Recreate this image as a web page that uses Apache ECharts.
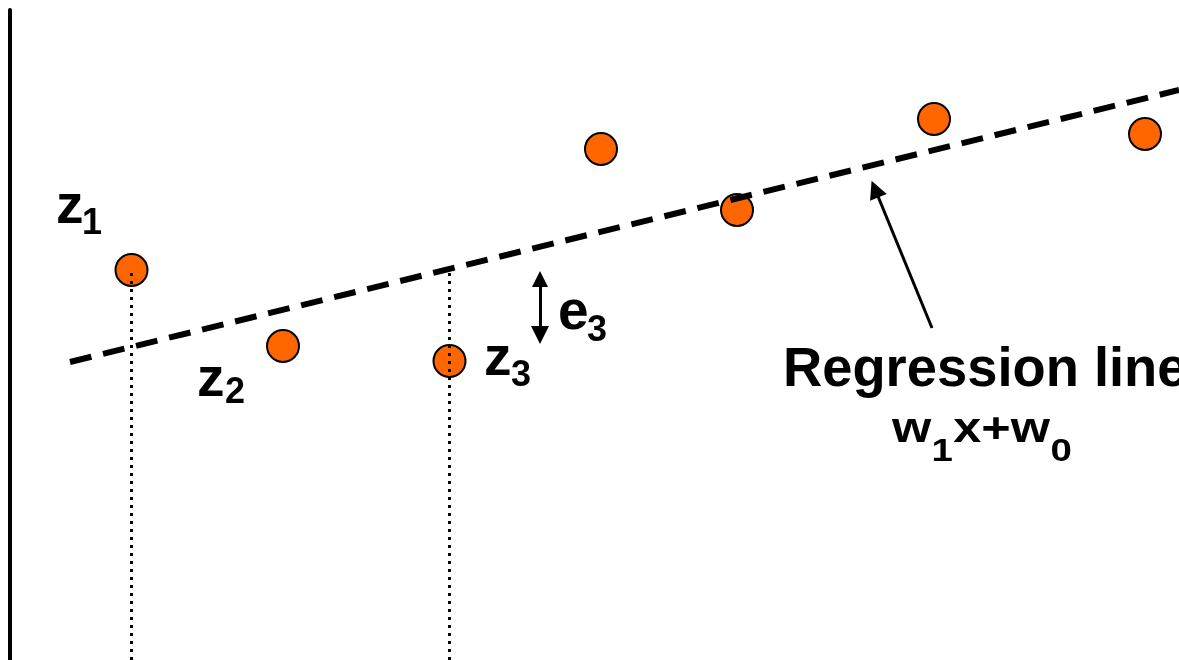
<!DOCTYPE html>
<html>
<head>
<meta charset="utf-8">
<script src="https://cdn.jsdelivr.net/npm/echarts@6/dist/echarts.min.js"></script>
<style>
  html, body { margin: 0; padding: 0; background: #fff; }
  #chart { width: 1179px; height: 660px; }
</style>
</head>
<body>
<div id="chart"></div>
<script>
// Observations z_i
const pointX = [1.215, 2.73, 4.395, 5.91, 7.27, 9.24, 11.35];
const pointY = [3.90, 3.14, 2.99, 5.11, 4.50, 5.41, 5.26];

// Regression line w1*x + w0, given by its two drawn end points
const regressionX = [0.60, 11.69];
const regressionY = [2.98, 5.70];

// Vertical drop lines (x, top) down to the x axis
const dropX = [1.215, 4.395];
const dropTop = [3.90, 3.91];

// Residual arrow e3 (x, from, to) and the pointer to the regression line
const residualX = 5.30;
const residualY = [3.81, 3.25];
const pointerFrom = [9.22, 3.32];
const pointerTo = [8.65, 4.71];

const FONT = '"Liberation Sans", Arial, Helvetica, sans-serif';

function txt(text, x, y, size, extra) {
  return Object.assign({
    type: 'text',
    x: x, y: y,
    z: 100,
    style: {
      text: text,
      font: 'bold ' + size + 'px ' + FONT,
      fill: '#000',
      align: 'left',
      verticalAlign: 'middle'
    }
  }, extra || {});
}

const chart = echarts.init(document.getElementById('chart'), null, { renderer: 'canvas' });

const option = {
  backgroundColor: '#fff',
  animation: false,
  grid: { left: 10, right: 0, top: 10, bottom: 0, containLabel: false },
  xAxis: {
    type: 'value', min: 0, max: 11.69, show: false
  },
  yAxis: {
    type: 'value', min: 0, max: 6.5,
    axisLine: { show: true, lineStyle: { color: '#000', width: 4 } },
    axisTick: { show: false },
    axisLabel: { show: false },
    splitLine: { show: false }
  },
  series: [
    {
      type: 'scatter',
      z: 2,
      symbol: 'circle',
      symbolSize: 32,
      itemStyle: { color: '#ff6600', borderColor: '#000', borderWidth: 2, opacity: 1 },
      data: pointX.map((x, i) => [x, pointY[i]])
    },
    {
      type: 'line',
      z: 3,
      symbol: 'none',
      lineStyle: { color: '#000', width: 6, type: [22, 12], cap: 'butt' },
      data: regressionX.map((x, i) => [x, regressionY[i]])
    },
    {
      type: 'lines',
      coordinateSystem: 'cartesian2d',
      z: 4,
      lineStyle: { color: '#000', width: 3, type: [3, 5], opacity: 1 },
      data: dropX.map((x, i) => ({ coords: [[x, 0], [x, dropTop[i]]] }))
    },
    {
      type: 'lines',
      coordinateSystem: 'cartesian2d',
      z: 5,
      symbol: ['triangle', 'triangle'],
      symbolSize: [16, 18],
      lineStyle: { color: '#000', width: 3, opacity: 1 },
      itemStyle: { color: '#000' },
      data: [{ coords: [[residualX, residualY[0]], [residualX, residualY[1]]] }]
    },
    {
      type: 'lines',
      coordinateSystem: 'cartesian2d',
      z: 5,
      symbol: ['none', 'triangle'],
      symbolSize: [16, 18],
      lineStyle: { color: '#000', width: 3, opacity: 1 },
      itemStyle: { color: '#000' },
      data: [{ coords: [pointerFrom, pointerTo] }]
    }
  ],
  graphic: [
    txt('z', 56, 208, 55), txt('1', 82, 224, 36),
    txt('z', 197, 381, 55), txt('2', 225, 393, 36),
    txt('z', 484, 360, 55), txt('3', 511, 376, 36),
    txt('e', 558, 314, 55), txt('3', 587, 331, 36),
    txt('Regression line', 783, 371, 56, { scaleX: 0.97 }),
    {
      type: 'group',
      x: 892, y: 0,
      scaleX: 1.2,
      children: [
        txt('w', 0, 430, 42), txt('1', 33, 452, 32),
        txt('x+w', 51, 430, 42), txt('0', 132, 452, 32)
      ]
    }
  ]
};

chart.setOption(option);
</script>
</body>
</html>
